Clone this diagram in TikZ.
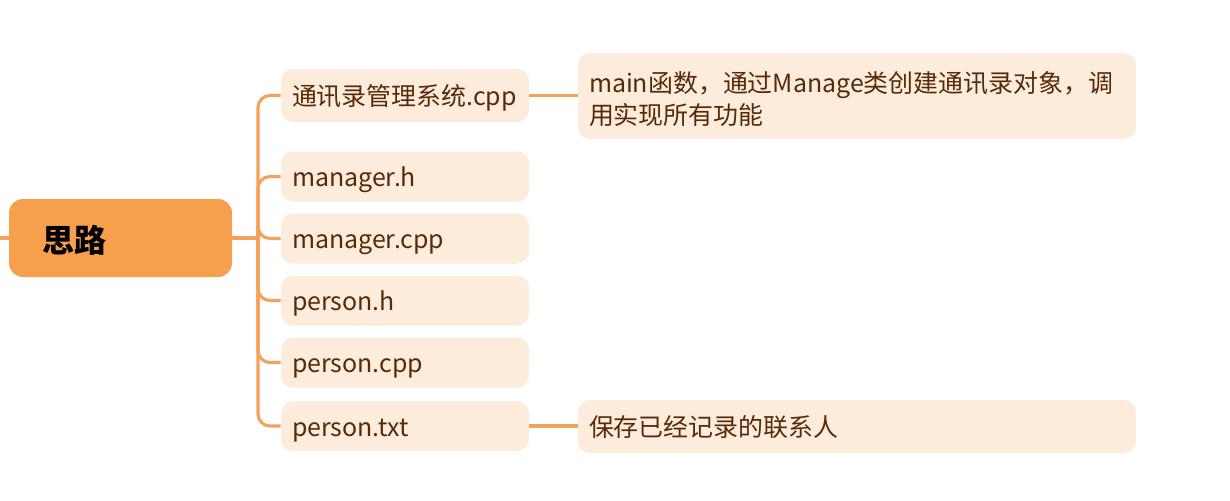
\documentclass[tikz,border=0pt]{standalone}
\usepackage{fontspec}
\setmainfont{Noto Sans CJK SC}
\definecolor{lineC}{HTML}{F4A259}
\definecolor{rootC}{HTML}{F6A04D}
\definecolor{boxC}{HTML}{FDEBDC}
\definecolor{txtC}{HTML}{562C08}
\newcommand\lbox[2]{\makebox[#1][l]{#2}}
\tikzset{
  conn/.style={draw=lineC, line width=2.3pt},
  rootbox/.style={fill=rootC, rounded corners=10.5pt, minimum width=167.25pt, minimum height=58.5pt,
    inner xsep=24.75pt, text height=23.5pt, text depth=2.4pt,
    font=\fontsize{24pt}{28pt}\selectfont\bfseries, text=black},
  childbox/.style={fill=boxC, rounded corners=9pt, minimum width=186pt, minimum height=37.5pt,
    inner xsep=8.25pt, text height=17.6pt, text depth=1.9pt,
    font=\fontsize{18.7pt}{24pt}\selectfont, text=txtC},
  notebox/.style={fill=boxC, rounded corners=9pt, minimum width=418.5pt,
    text width=402pt, inner xsep=8.25pt, align=left,
    font=\fontsize{18.7pt}{24pt}\selectfont, text=txtC}
}
\begin{document}
\begin{tikzpicture}[x=0.75pt,y=-0.75pt]
\useasboundingbox (0,0) rectangle (1230,500);
\coordinate (stub) at (0,238);
\coordinate (fork) at (258,238);
\node[rootbox] (root) at (120.5,238) {\lbox{117.75pt}{思路}};
\node[childbox, minimum height=39.75pt] (c1) at (405,95.5) {\lbox{169.5pt}{通讯录管理系统.cpp}};
\node[childbox] (c2) at (405,176.5) {\lbox{169.5pt}{manager.h}};
\node[childbox] (c3) at (405,238.5) {\lbox{169.5pt}{manager.cpp}};
\node[childbox] (c4) at (405,300.5) {\lbox{169.5pt}{person.h}};
\node[childbox] (c5) at (405,362.5) {\lbox{169.5pt}{person.cpp}};
\node[childbox] (c6) at (405,426) {\lbox{169.5pt}{person.txt}};
\node[notebox, minimum height=64.5pt] (n1) at (857,96) {\rule{0pt}{1.1em}main函数，通过Manage类创建通讯录对象，调\\用实现所有功能};
\node[childbox, minimum width=418.5pt, minimum height=39.75pt] (n2) at (857,426.5) {\lbox{402pt}{保存已经记录的联系人}};
\draw[conn] (stub) -- (root.west);
\draw[conn] (root.east) -- (fork);
\foreach \c in {c1,c2,c3,c4,c5,c6}{
  \draw[conn, rounded corners=9pt] (fork) |- (\c.west);
}
\draw[conn] (c1.east) -- (n1.west |- c1.east);
\draw[conn] (c6.east) -- (n2.west |- c6.east);
\end{tikzpicture}
\end{document}
